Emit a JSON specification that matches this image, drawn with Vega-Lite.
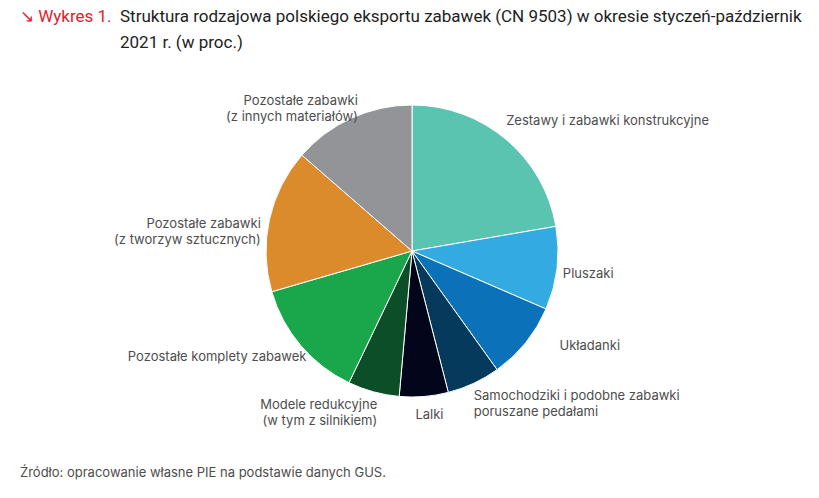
{
  "$schema": "https://vega.github.io/schema/vega-lite/v6.json",
  "background": "white",
  "padding": {"left": 20, "top": 8, "right": 10, "bottom": 10},
  "bounds": "flush",
  "config": {"view": {"stroke": null}, "concat": {"spacing": 0}, "font": "Inter",
    "text": {"fontSize": 13, "color": "#4d4d4d", "lineBreak": "\n", "lineHeight": 16, "baseline": "middle"}},
  "datasets": {
    "pie": [
      {"order": 1, "cat": "Zestawy i zabawki konstrukcyjne", "value": 22.3},
      {"order": 2, "cat": "Pluszaki", "value": 9.2},
      {"order": 3, "cat": "Układanki", "value": 8.6},
      {"order": 4, "cat": "Samochodziki i podobne zabawki\nporuszane pedałami", "value": 5.9},
      {"order": 5, "cat": "Lalki", "value": 5.4},
      {"order": 6, "cat": "Modele redukcyjne\n(w tym z silnikiem)", "value": 5.7},
      {"order": 7, "cat": "Pozostałe komplety zabawek", "value": 13.4},
      {"order": 8, "cat": "Pozostałe zabawki\n(z tworzyw sztucznych)", "value": 15.9},
      {"order": 9, "cat": "Pozostałe zabawki\n(z innych materiałów)", "value": 13.6}
    ]
  },
  "title": {
    "text": "Źródło: opracowanie własne PIE na podstawie danych GUS.",
    "orient": "bottom", "anchor": "start", "font": "Inter", "fontSize": 13,
    "fontWeight": "normal", "color": "#4d4d4d", "offset": 21, "frame": "group"
  },
  "hconcat": [
    {
      "width": 100, "height": 390,
      "data": {"values": [{}]},
      "mark": {"type": "text"},
      "encoding": {"text": {"value": ""}},
      "title": {"text": "↘ Wykres 1.", "anchor": "start", "font": "Roboto", "fontSize": 17,
        "fontWeight": "normal", "color": "#e3202d", "dy": -26, "frame": "group"}
    },
    {
      "width": 584, "height": 390,
      "data": {"name": "pie"},
      "title": {
        "text": ["Struktura rodzajowa polskiego eksportu zabawek (CN 9503) w okresie styczeń-październik", "2021 r. (w proc.)"],
        "anchor": "start", "font": "Roboto", "fontSize": 17, "fontWeight": "normal",
        "color": "#222222", "lineHeight": 26, "frame": "group"
      },
      "transform": [
        {"stack": "value", "groupby": [], "sort": [{"field": "order", "order": "ascending"}], "as": ["v0", "v1"]},
        {"calculate": "(datum.v0 + datum.v1) / 2", "as": "mid"}
      ],
      "encoding": {
        "theta": {"field": "mid", "type": "quantitative", "stack": null, "scale": {"domain": [0, 100], "zero": true, "nice": false}},
        "text": {"field": "cat"}
      },
      "layer": [
        {
          "mark": {"type": "arc", "outerRadius": 146, "stroke": "white", "strokeWidth": 1},
          "encoding": {
            "theta": {"field": "v0", "type": "quantitative", "scale": {"domain": [0, 100], "zero": true, "nice": false}},
            "theta2": {"field": "v1"},
            "text": null,
            "color": {
              "field": "cat", "type": "nominal", "legend": null,
              "scale": {
                "domain": ["Zestawy i zabawki konstrukcyjne", "Pluszaki", "Układanki", "Samochodziki i podobne zabawki\nporuszane pedałami", "Lalki", "Modele redukcyjne\n(w tym z silnikiem)", "Pozostałe komplety zabawek", "Pozostałe zabawki\n(z tworzyw sztucznych)", "Pozostałe zabawki\n(z innych materiałów)"],
                "range": ["#5bc4b1", "#33aae1", "#0b71b9", "#053a5c", "#03051a", "#0b4e27", "#1aa64b", "#dc8b2c", "#929497"]
              }
            }
          }
        },
        {"transform": [{"filter": "datum.order == 1"}], "mark": {"type": "text", "radius": 160, "align": "left", "dx": -9, "dy": -8}},
        {"transform": [{"filter": "datum.order == 2"}], "mark": {"type": "text", "radius": 160, "align": "left", "dx": -8, "dy": 4}},
        {"transform": [{"filter": "datum.order == 3"}], "mark": {"type": "text", "radius": 160, "align": "left", "dx": 23, "dy": -5}},
        {"transform": [{"filter": "datum.order == 4"}], "mark": {"type": "text", "radius": 160, "align": "left", "dx": -6, "dy": 0}},
        {"transform": [{"filter": "datum.order == 5"}], "mark": {"type": "text", "radius": 165, "align": "center", "dx": 4, "dy": 0}},
        {"transform": [{"filter": "datum.order == 6"}], "mark": {"type": "text", "radius": 162, "align": "right", "dx": 8, "dy": -2}},
        {"transform": [{"filter": "datum.order == 7"}], "mark": {"type": "text", "radius": 162, "align": "right", "dx": 18, "dy": 1}},
        {"transform": [{"filter": "datum.order == 8"}], "mark": {"type": "text", "radius": 162, "align": "right", "dx": 7, "dy": 8}},
        {"transform": [{"filter": "datum.order == 9"}], "mark": {"type": "text", "radius": 162, "align": "right", "dx": 13, "dy": -3}}
      ]
    }
  ]
}
